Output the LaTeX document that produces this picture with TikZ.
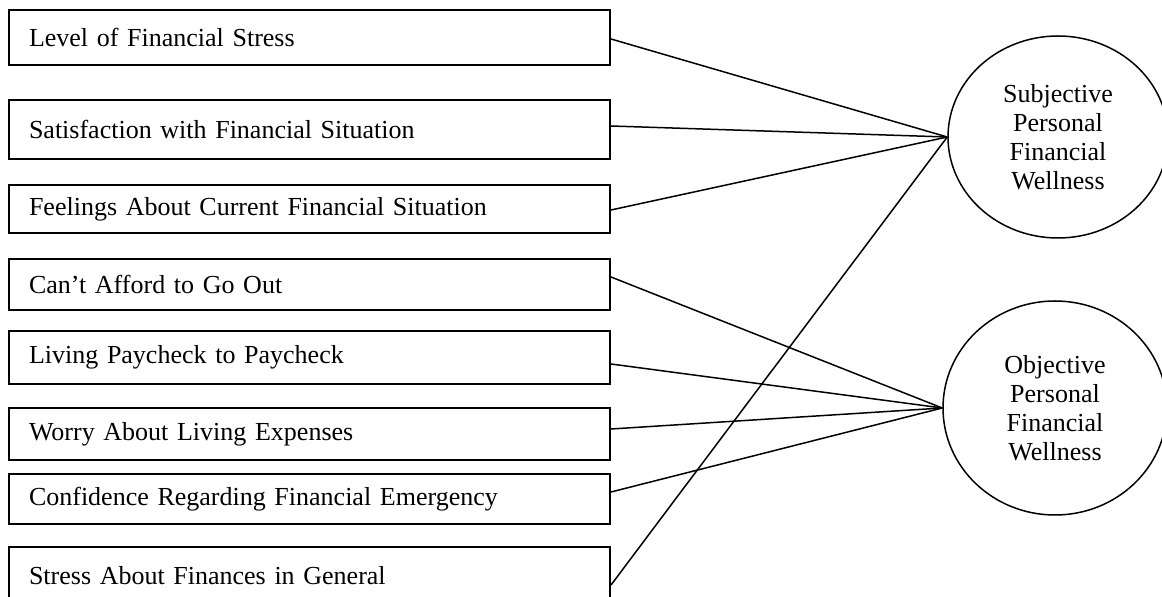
\documentclass[tikz,border=0pt]{standalone}
\usepackage{fontspec}
\setmainfont{Liberation Serif}
\usetikzlibrary{shapes.geometric}
\begin{document}
\begin{tikzpicture}[x=0.5pt,y=-0.5pt,
  itembox/.style={draw,line width=1pt,rectangle,anchor=north west,
    minimum width=300.5pt,inner xsep=10pt,inner ysep=0pt,
    text width=280.5pt,align=left,font=\fontsize{13}{14.5}\selectfont},
  latent/.style={draw,line width=0.75pt,ellipse,align=center,inner sep=0pt,
    font=\fontsize{13}{14.5}\selectfont},
  link/.style={line width=0.75pt}]
\useasboundingbox (0,0) rectangle (1162,597);
\clip (0,0) rectangle (1162,597);
\node[itembox,minimum height=27.5pt] (b1) at (8,9) {Level of Financial Stress};
\node[itembox,minimum height=29.5pt] (b2) at (8,99) {Satisfaction with Financial Situation};
\node[itembox,minimum height=24pt] (b3) at (8,184) {Feelings About Current Financial Situation};
\node[itembox,minimum height=25.5pt] (b4) at (8,258) {Can’t Afford to Go Out};
\node[itembox,minimum height=26.5pt] (b5) at (8,330) {Living Paycheck to Paycheck};
\node[itembox,minimum height=26pt] (b6) at (8,407) {Worry About Living Expenses};
\node[itembox,minimum height=25pt] (b7) at (8,473) {Confidence Regarding Financial Emergency};
\node[itembox,minimum height=29pt] (b8) at (8,546) {Stress About Finances in General};
\node[latent,minimum width=110pt,minimum height=101pt] (subj) at (1058,137) {Subjective\\Personal\\Financial\\Wellness};
\node[latent,minimum width=112pt,minimum height=107pt] (obj) at (1055,408) {Objective\\Personal\\Financial\\Wellness};
\draw[link] ([yshift=-0.75pt]b1.east) -- (subj.west);
\draw[link] ([yshift=1.75pt]b2.east) -- (subj.west);
\draw[link] ([yshift=-0.5pt]b3.east) -- (subj.west);
\draw[link] ([yshift=-4.5pt]b8.east) -- (subj.west);
\draw[link] ([yshift=3.75pt]b4.east) -- (obj.west);
\draw[link] ([yshift=-3.25pt]b5.east) -- (obj.west);
\draw[link] ([yshift=2.5pt]b6.east) -- (obj.west);
\draw[link] ([yshift=3.5pt]b7.east) -- (obj.west);
\end{tikzpicture}
\end{document}
